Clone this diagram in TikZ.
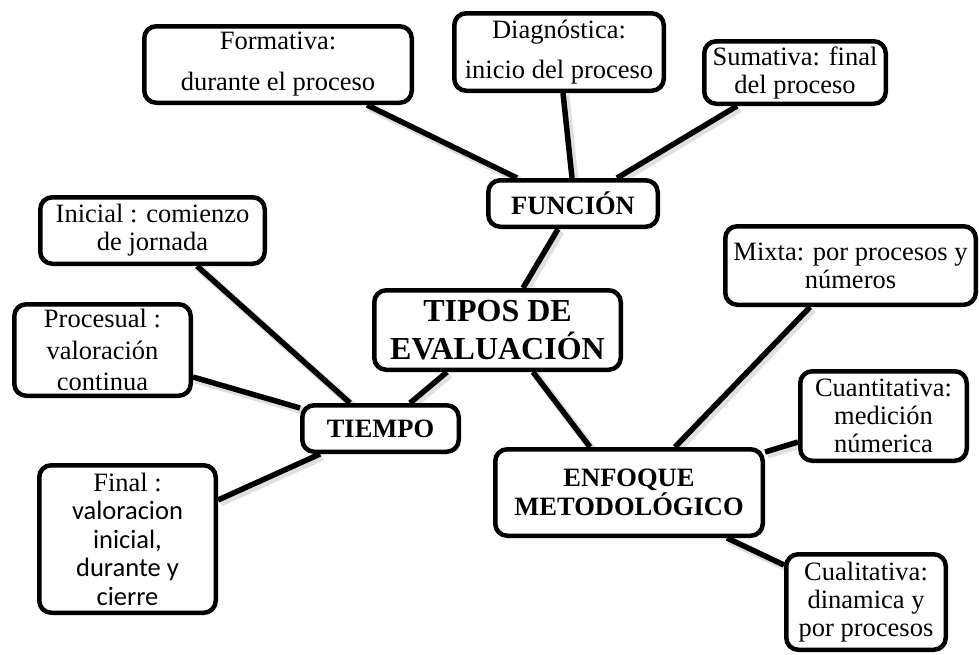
\documentclass[tikz,border=0pt]{standalone}
\usepackage{fontspec}
\setmainfont{Liberation Serif}
\newfontfamily\calib{Carlito}
\usetikzlibrary{backgrounds}
\begin{document}
\begin{tikzpicture}[x=1pt,y=-1pt,
  box/.style={draw, line width=4.5pt, rounded corners=12pt, fill=white, align=center, inner sep=0pt,
    font=\fontsize{26.5}{28}\selectfont},
  boldbox/.style={box, font=\fontsize{26.5}{29}\selectfont\bfseries},
  conn/.style={line width=5.5pt},
  shad/.style={line width=8pt, black, opacity=0.12, transform canvas={xshift=2.5pt,yshift=-2.5pt}}
]
\useasboundingbox (0,0) rectangle (979,654);

\node[box, minimum width=267.5pt, minimum height=76.5pt] (form) at (278,64.5) {Formativa:\\[13pt]durante el proceso};
\node[box, minimum width=209.5pt, minimum height=77.5pt] (diag) at (559,52) {Diagnóstica:\\[12pt]inicio del proceso};
\node[box, minimum width=181.5pt, minimum height=62.5pt] (suma) at (795,72.5) {Sumativa: final\\del proceso};
\node[boldbox, minimum width=169.5pt, minimum height=46.5pt] (func) at (573,203.5) {FUNCIÓN};
\node[box, minimum width=224.5pt, minimum height=66.5pt] (inic) at (152.5,230.5) {Inicial : comienzo\\de jornada};
\node[box, minimum width=246.5pt, minimum height=79.5pt, font=\fontsize{32}{38}\selectfont\bfseries] (tipos) at (497.5,330) {TIPOS DE\\EVALUACIÓN};
\node[box, minimum width=176.5pt, minimum height=91.5pt] (proc) at (102.5,350) {Procesual :\\[3.5pt]valoración\\[3.5pt]continua};
\node[boldbox, minimum width=156.5pt, minimum height=46.5pt] (tiem) at (380.5,428.5) {TIEMPO};
\node[box, minimum width=176.5pt, minimum height=147.5pt] (final) at (127.5,539) {Final :\\[0.5pt]{\calib valoracion}\\[0.5pt]{\calib inicial,}\\[0.5pt]{\calib durante y}\\[0.5pt]{\calib cierre}};
\node[boldbox, minimum width=267.5pt, minimum height=86.5pt] (enf) at (629,492.5) {ENFOQUE\\METODOLÓGICO};
\node[box, minimum width=250.5pt, minimum height=78.5pt] (mixta) at (850.5,265.5) {Mixta: por procesos y\\números};
\node[box, minimum width=166.5pt, minimum height=89.5pt] (cuan) at (883.5,416) {Cuantitativa:\\medición\\númerica};
\node[box, minimum width=159.5pt, minimum height=95.5pt] (cual) at (866,602) {Cualitativa:\\dinamica y\\por procesos};

\begin{scope}[on background layer]
  \fill[white] (0,0) rectangle (979,654);
  \foreach \st in {shad, conn}{
    \draw[\st] ([xshift=89pt]form.south) -- ([xshift=-56pt]func.north);
    \draw[\st] ([xshift=4pt]diag.south) -- ([xshift=-1pt]func.north);
    \draw[\st] ([xshift=-58pt]suma.south) -- ([xshift=44pt]func.north);
    \draw[\st] ([xshift=-15pt]func.south) -- ([xshift=25.5pt]tipos.north);
    \draw[\st] ([xshift=44.5pt]inic.south) -- ([xshift=-30.5pt]tiem.north);
    \draw[\st] ([yshift=-27pt]proc.east) -- ([yshift=20.5pt]tiem.west);
    \draw[\st] ([yshift=39pt]final.east) -- ([xshift=-60.5pt]tiem.south);
    \draw[\st] ([xshift=29.5pt]tiem.north) -- ([xshift=-50.5pt]tipos.south);
    \draw[\st] ([xshift=35.5pt]tipos.south) -- ([xshift=-39pt]enf.north);
    \draw[\st] ([xshift=-40.5pt]mixta.south) -- ([xshift=46pt]enf.north);
    \draw[\st] ([yshift=-26pt]cuan.west) -- ([yshift=40.5pt]enf.east);
    \draw[\st] ([yshift=37pt]cual.west) -- ([xshift=98pt]enf.south);
  }
\end{scope}
\end{tikzpicture}
\end{document}
